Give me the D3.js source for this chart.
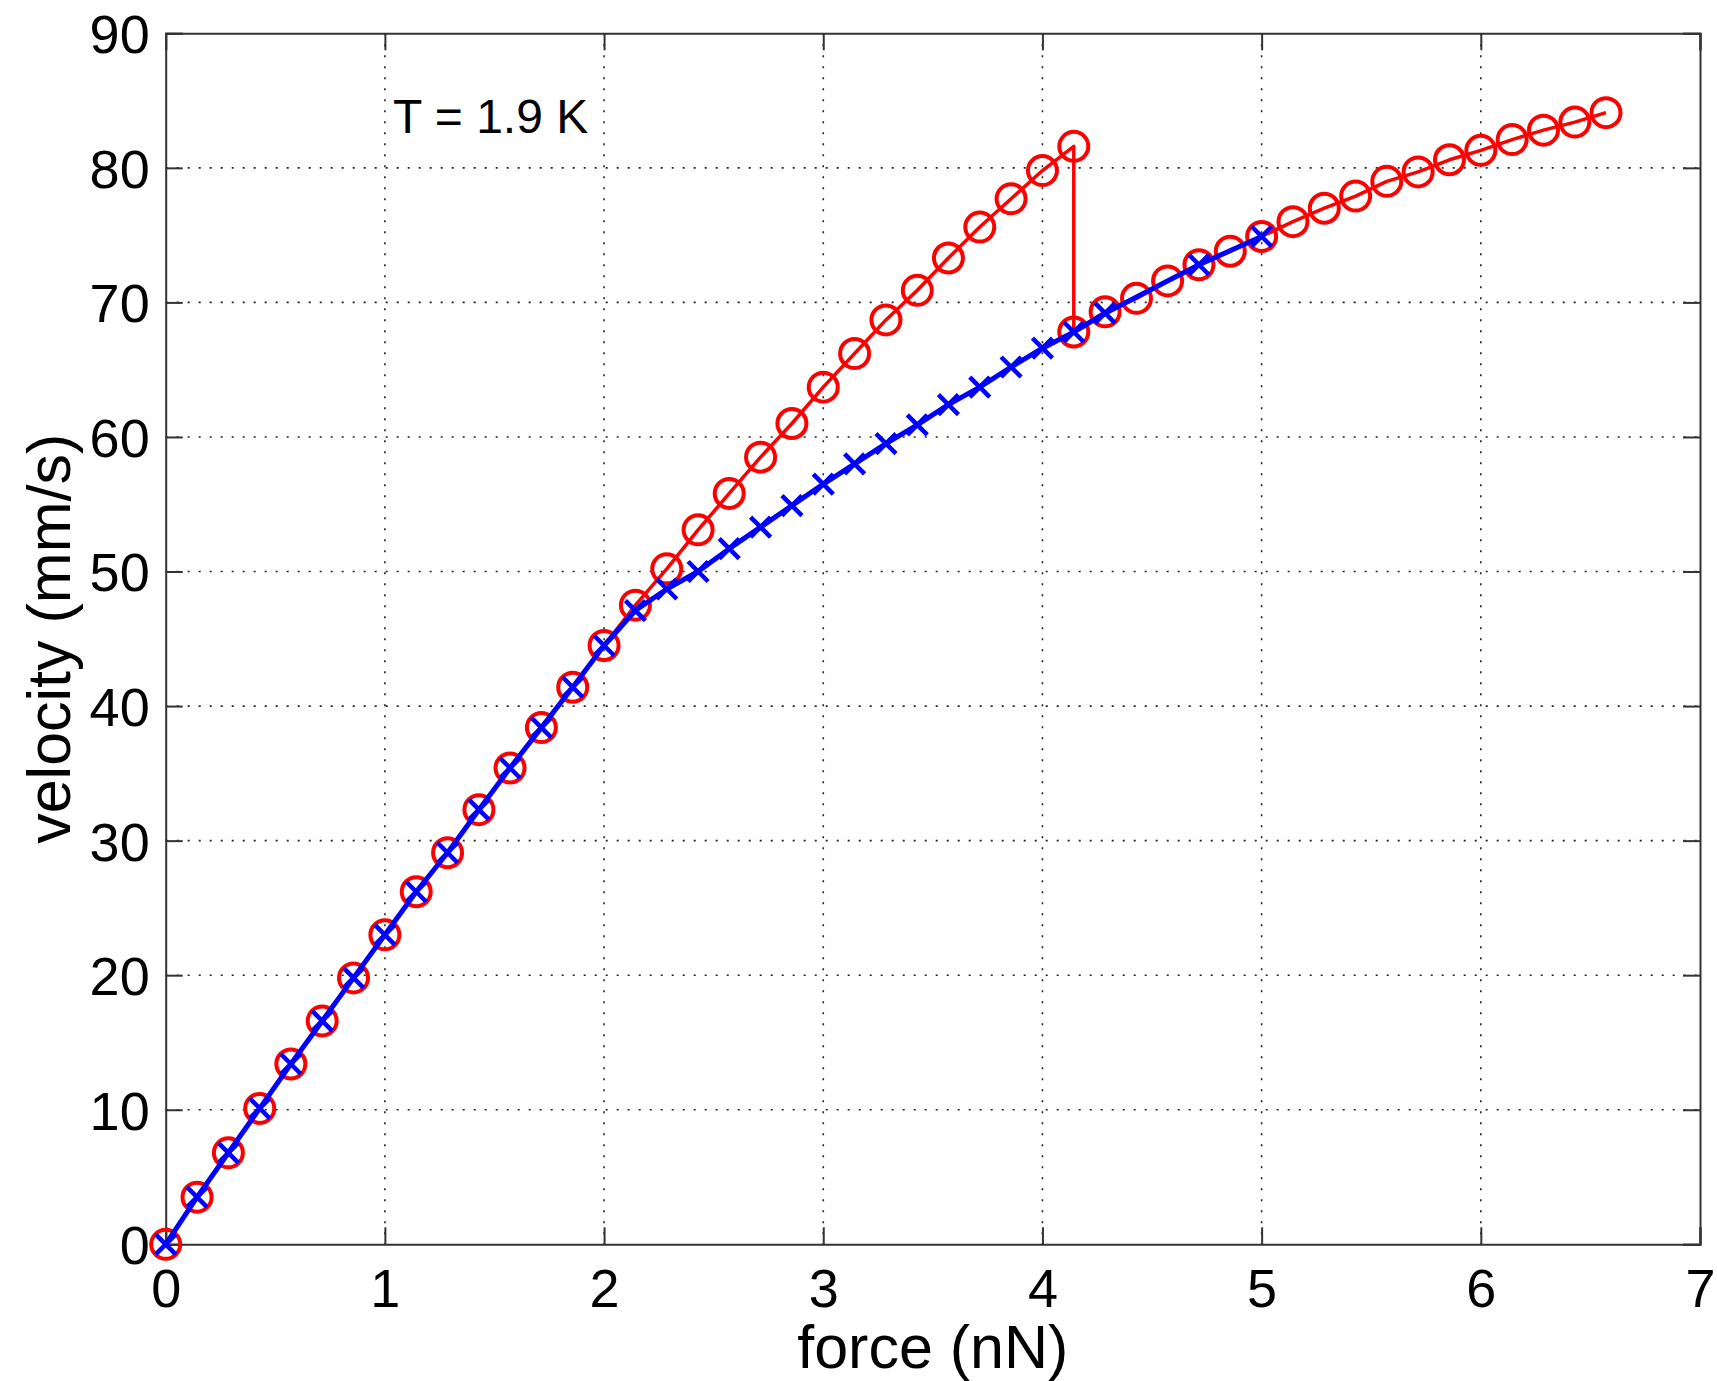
<!DOCTYPE html>
<html>
<head>
<meta charset="utf-8">
<script src="https://cdn.jsdelivr.net/npm/d3@7"></script>
<style>
  html, body { margin: 0; padding: 0; background: #fff; }
  svg { display: block; }
  text { font-family: "Liberation Sans", Arial, sans-serif; fill: #000; }
</style>
</head>
<body>
<svg id="chart" width="1717" height="1381"></svg>
<script>
// ---- data ----
const forceRed = [0, 0.143, 0.286, 0.429, 0.571, 0.714, 0.857, 1.0, 1.143, 1.286, 1.429, 1.571, 1.714, 1.857, 2.0,
  2.143, 2.286, 2.429, 2.571, 2.714, 2.857, 3.0, 3.143, 3.286, 3.429, 3.571, 3.714, 3.857, 4.0, 4.143,
  4.143, 4.286, 4.429, 4.571, 4.714, 4.857, 5.0, 5.143, 5.286, 5.429, 5.571, 5.714, 5.857, 6.0, 6.143, 6.286, 6.429, 6.571];
const velocityRed = [0, 3.5, 6.8, 10.1, 13.4, 16.6, 19.8, 23.0, 26.2, 29.1, 32.3, 35.4, 38.4, 41.4, 44.5,
  47.5, 50.2, 53.1, 55.8, 58.5, 61.0, 63.7, 66.2, 68.7, 70.9, 73.3, 75.6, 77.7, 79.8, 81.6,
  67.8, 69.3, 70.3, 71.6, 72.8, 73.8, 74.9, 76.0, 77.0, 77.9, 79.0, 79.7, 80.6, 81.3, 82.1, 82.8, 83.4, 84.1];
const forceBlue = [0, 0.143, 0.286, 0.429, 0.571, 0.714, 0.857, 1.0, 1.143, 1.286, 1.429, 1.571, 1.714, 1.857, 2.0,
  2.143, 2.286, 2.429, 2.571, 2.714, 2.857, 3.0, 3.143, 3.286, 3.429, 3.571, 3.714, 3.857, 4.0, 4.143,
  4.286, 4.714, 5.0];
const velocityBlue = [0, 3.5, 6.8, 10.1, 13.4, 16.6, 19.8, 23.0, 26.2, 29.1, 32.3, 35.4, 38.4, 41.4, 44.5,
  47.1, 48.7, 50.0, 51.7, 53.3, 54.9, 56.5, 58.0, 59.5, 60.9, 62.4, 63.7, 65.2, 66.6, 67.8,
  69.2, 72.8, 74.9];
const xTicks = [0, 1, 2, 3, 4, 5, 6, 7];
const yTicks = [0, 10, 20, 30, 40, 50, 60, 70, 80, 90];
const xLabel = "force (nN)";
const yLabel = "velocity (mm/s)";
const annotation = "T = 1.9 K";

// ---- layout ----
const svg = d3.select("#chart");
const L = 165.7, R = 1700, T = 33.3, B = 1244.3;
const x = d3.scaleLinear().domain([0, 7]).range([L, R]);
const y = d3.scaleLinear().domain([0, 90]).range([B, T]);

// grid
const grid = svg.append("g");
grid.selectAll("line.gx").data(xTicks.slice(1, -1)).join("line")
  .attr("x1", d => x(d)).attr("x2", d => x(d)).attr("y1", T).attr("y2", B)
  .attr("stroke", "#222").attr("stroke-width", 1.6).attr("stroke-dasharray", "2,9");
grid.selectAll("line.gy").data(yTicks.slice(1, -1)).join("line")
  .attr("y1", d => y(d)).attr("y2", d => y(d)).attr("x1", L).attr("x2", R)
  .attr("stroke", "#222").attr("stroke-width", 1.6).attr("stroke-dasharray", "2,9");

// axes
const tickLen = 17;
const axB = svg.append("g").attr("transform", `translate(0,${B})`)
  .call(d3.axisBottom(x).tickValues(xTicks).tickSize(-tickLen).tickPadding(24).tickFormat(d3.format("d")));
const axT = svg.append("g").attr("transform", `translate(0,${T})`)
  .call(d3.axisTop(x).tickValues(xTicks).tickSize(-tickLen).tickFormat(""));
const axLft = svg.append("g").attr("transform", `translate(${L},0)`)
  .call(d3.axisLeft(y).tickValues(yTicks).tickSize(-tickLen).tickPadding(16).tickFormat(d3.format("d")));
const axRgt = svg.append("g").attr("transform", `translate(${R},0)`)
  .call(d3.axisRight(y).tickValues(yTicks).tickSize(-tickLen).tickFormat(""));
[axB, axT, axLft, axRgt].forEach(a => {
  a.select(".domain").attr("stroke", "#333").attr("stroke-width", 2);
  a.selectAll(".tick line").attr("stroke", "#333").attr("stroke-width", 2);
  a.selectAll(".tick text").attr("font-size", 54).attr("font-family", "Liberation Sans, Arial, sans-serif").attr("fill", "#000");
});
axB.selectAll(".tick text").attr("dy", "0.71em");
axLft.selectAll(".tick text").attr("dy", "0.36em");

// labels
svg.append("text").attr("x", (L + R) / 2).attr("y", 1368).attr("text-anchor", "middle")
  .attr("font-size", 61).text(xLabel);
svg.append("text").attr("transform", `translate(70,${(T + B) / 2}) rotate(-90)`).attr("text-anchor", "middle")
  .attr("font-size", 61).text(yLabel);
svg.append("text").attr("x", 393).attr("y", 133).attr("font-size", 48).text(annotation);

// series
const red = forceRed.map((f, i) => ({ f, v: velocityRed[i] }));
const blue = forceBlue.map((f, i) => ({ f, v: velocityBlue[i] }));
const line = d3.line().x(d => x(d.f)).y(d => y(d.v));

const gRed = svg.append("g");
gRed.append("path").datum(red).attr("d", line).attr("fill", "none")
  .attr("stroke", "#ff0000").attr("stroke-width", 3.5).attr("stroke-linejoin", "round");
gRed.selectAll("circle").data(red).join("circle")
  .attr("cx", d => x(d.f)).attr("cy", d => y(d.v)).attr("r", 14.5)
  .attr("fill", "none").attr("stroke", "#ff0000").attr("stroke-width", 4);

const gBlue = svg.append("g");
gBlue.append("path").datum(blue).attr("d", line).attr("fill", "none")
  .attr("stroke", "#0000ff").attr("stroke-width", 5).attr("stroke-linejoin", "round");
const s = 10;
gBlue.selectAll("path.x").data(blue).join("path").attr("class", "x")
  .attr("d", d => {
    const cx = x(d.f), cy = y(d.v);
    return `M${cx - s},${cy - s}L${cx + s},${cy + s}M${cx - s},${cy + s}L${cx + s},${cy - s}`;
  })
  .attr("stroke", "#0000ff").attr("stroke-width", 4.5).attr("fill", "none");
</script>
</body>
</html>
